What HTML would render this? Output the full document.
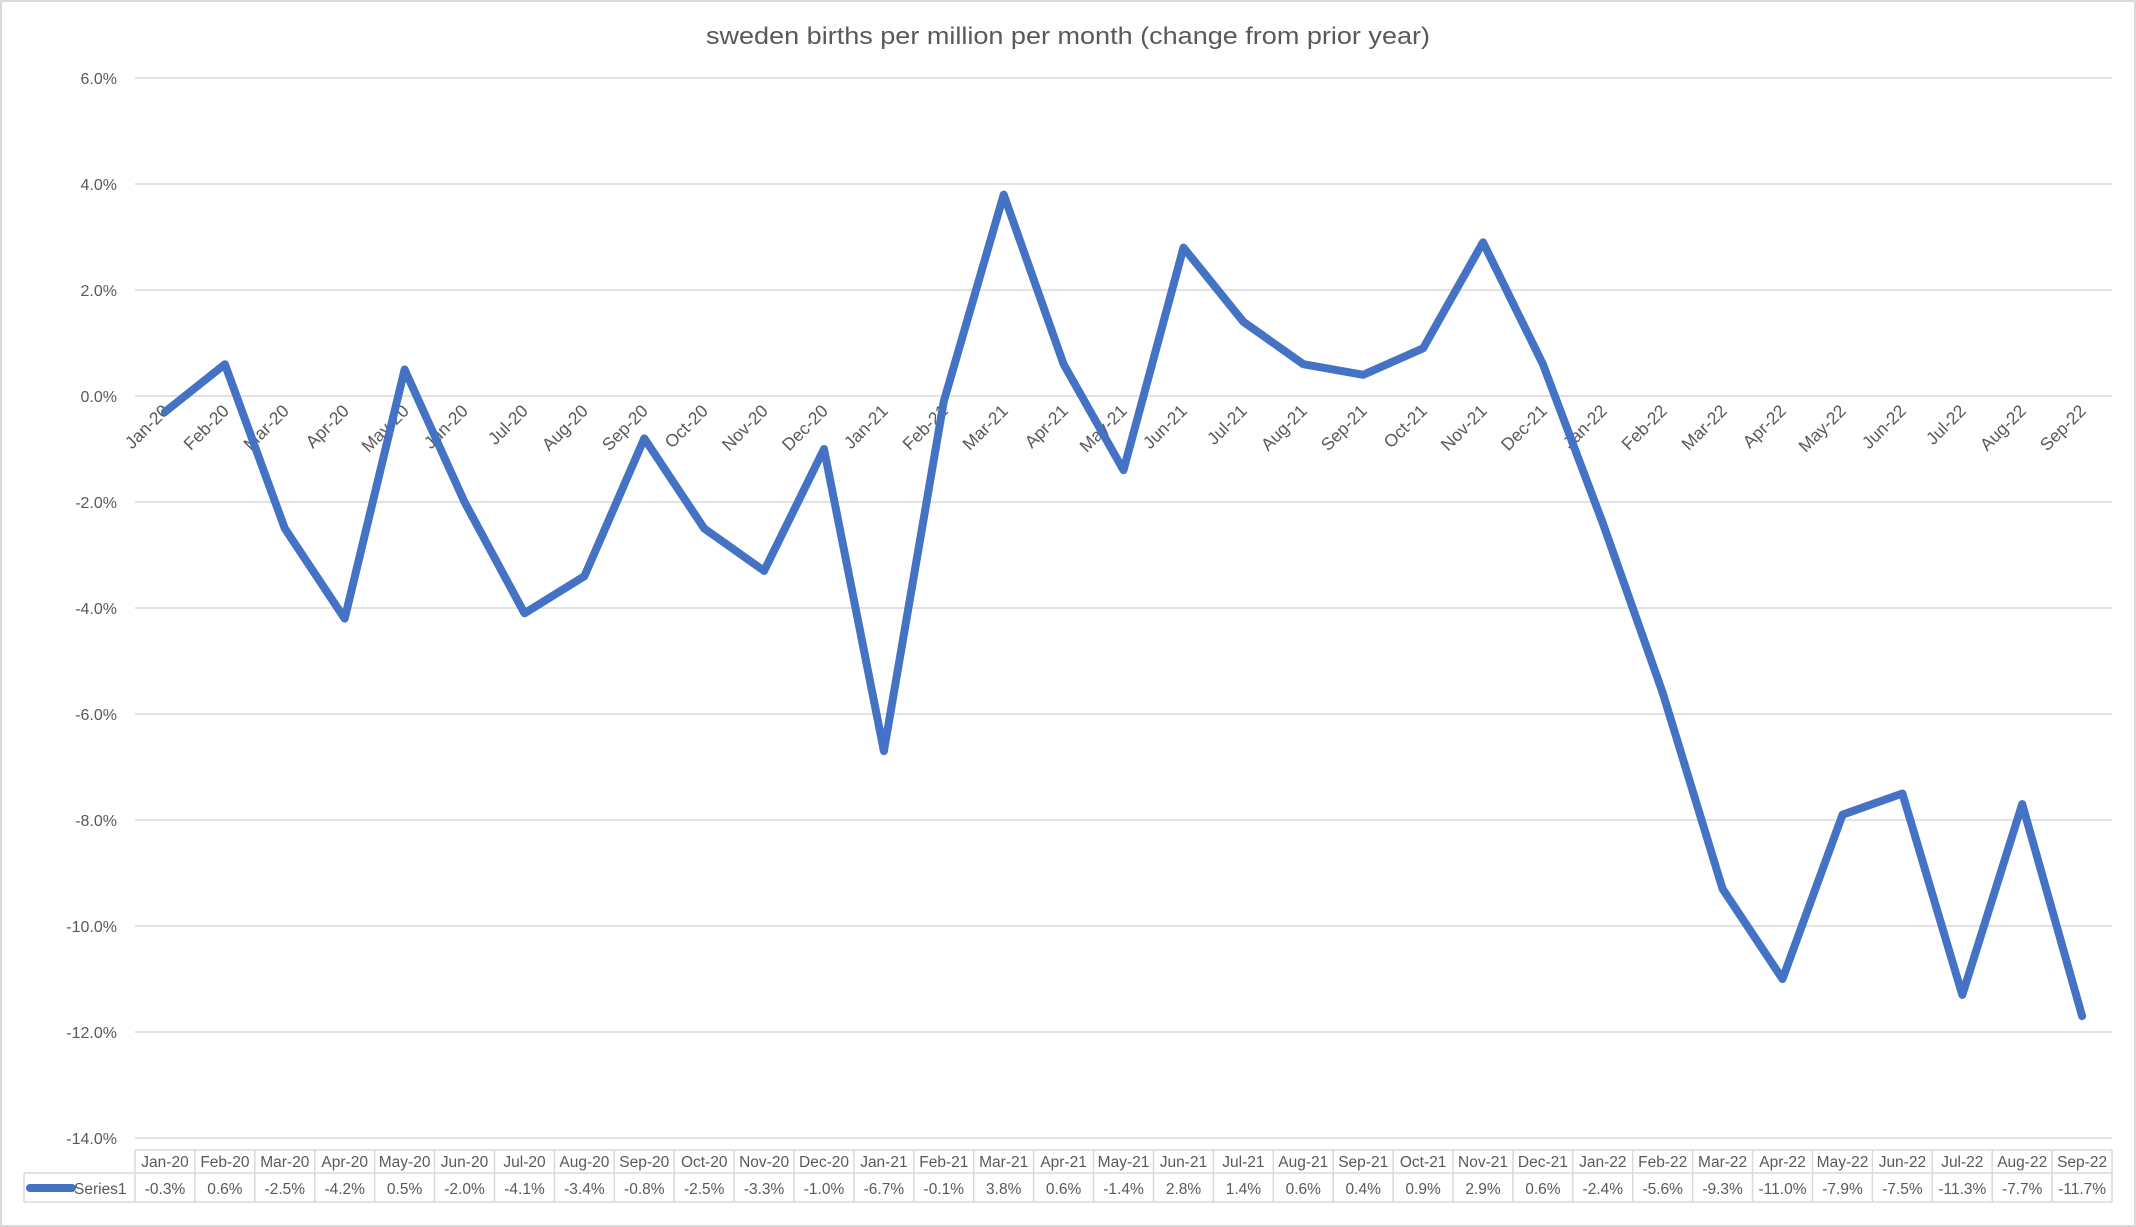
<!DOCTYPE html>
<html><head><meta charset="utf-8"><style>
html,body{margin:0;padding:0;background:#fff;}
svg{display:block;font-family:"Liberation Sans",sans-serif;}
</style></head><body>
<svg width="2136" height="1227" viewBox="0 0 2136 1227" xmlns="http://www.w3.org/2000/svg">
<rect x="1" y="1" width="2134" height="1225" fill="#fff" stroke="#d9d9d9" stroke-width="2"/>
<text x="1068" y="44" text-anchor="middle" font-size="24" fill="#595959" textLength="724" lengthAdjust="spacingAndGlyphs">sweden births per million per month (change from prior year)</text>
<g stroke="#d9d9d9" stroke-width="1.5">
<line x1="135" y1="78" x2="2112" y2="78"/>
<line x1="135" y1="184" x2="2112" y2="184"/>
<line x1="135" y1="290" x2="2112" y2="290"/>
<line x1="135" y1="396" x2="2112" y2="396"/>
<line x1="135" y1="502" x2="2112" y2="502"/>
<line x1="135" y1="608" x2="2112" y2="608"/>
<line x1="135" y1="714" x2="2112" y2="714"/>
<line x1="135" y1="820" x2="2112" y2="820"/>
<line x1="135" y1="926" x2="2112" y2="926"/>
<line x1="135" y1="1032" x2="2112" y2="1032"/>
<line x1="135" y1="1138" x2="2112" y2="1138"/>
</g>
<g font-size="16" fill="#595959" text-anchor="end">
<text x="117" y="84">6.0%</text>
<text x="117" y="190">4.0%</text>
<text x="117" y="296">2.0%</text>
<text x="117" y="402">0.0%</text>
<text x="117" y="508">-2.0%</text>
<text x="117" y="614">-4.0%</text>
<text x="117" y="720">-6.0%</text>
<text x="117" y="826">-8.0%</text>
<text x="117" y="932">-10.0%</text>
<text x="117" y="1038">-12.0%</text>
<text x="117" y="1144">-14.0%</text>
</g>
<g font-size="17.5" fill="#595959" text-anchor="end">
<text transform="translate(170,412) rotate(-45)">Jan-20</text>
<text transform="translate(230,412) rotate(-45)">Feb-20</text>
<text transform="translate(290,412) rotate(-45)">Mar-20</text>
<text transform="translate(350,412) rotate(-45)">Apr-20</text>
<text transform="translate(410,412) rotate(-45)">May-20</text>
<text transform="translate(469,412) rotate(-45)">Jun-20</text>
<text transform="translate(529,412) rotate(-45)">Jul-20</text>
<text transform="translate(589,412) rotate(-45)">Aug-20</text>
<text transform="translate(649,412) rotate(-45)">Sep-20</text>
<text transform="translate(709,412) rotate(-45)">Oct-20</text>
<text transform="translate(769,412) rotate(-45)">Nov-20</text>
<text transform="translate(829,412) rotate(-45)">Dec-20</text>
<text transform="translate(889,412) rotate(-45)">Jan-21</text>
<text transform="translate(949,412) rotate(-45)">Feb-21</text>
<text transform="translate(1009,412) rotate(-45)">Mar-21</text>
<text transform="translate(1069,412) rotate(-45)">Apr-21</text>
<text transform="translate(1128,412) rotate(-45)">May-21</text>
<text transform="translate(1188,412) rotate(-45)">Jun-21</text>
<text transform="translate(1248,412) rotate(-45)">Jul-21</text>
<text transform="translate(1308,412) rotate(-45)">Aug-21</text>
<text transform="translate(1368,412) rotate(-45)">Sep-21</text>
<text transform="translate(1428,412) rotate(-45)">Oct-21</text>
<text transform="translate(1488,412) rotate(-45)">Nov-21</text>
<text transform="translate(1548,412) rotate(-45)">Dec-21</text>
<text transform="translate(1608,412) rotate(-45)">Jan-22</text>
<text transform="translate(1668,412) rotate(-45)">Feb-22</text>
<text transform="translate(1728,412) rotate(-45)">Mar-22</text>
<text transform="translate(1787,412) rotate(-45)">Apr-22</text>
<text transform="translate(1847,412) rotate(-45)">May-22</text>
<text transform="translate(1907,412) rotate(-45)">Jun-22</text>
<text transform="translate(1967,412) rotate(-45)">Jul-22</text>
<text transform="translate(2027,412) rotate(-45)">Aug-22</text>
<text transform="translate(2087,412) rotate(-45)">Sep-22</text>
</g>
<polyline fill="none" stroke="#4472c4" stroke-width="8" stroke-linejoin="round" stroke-linecap="round" points="165,411.9 224.9,364.2 284.8,528.5 344.7,618.6 404.6,369.5 464.5,502 524.5,613.3 584.4,576.2 644.3,438.4 704.2,528.5 764.1,570.9 824,449 883.9,751.1 943.8,401.3 1003.7,194.6 1063.6,364.2 1123.5,470.2 1183.5,247.6 1243.4,321.8 1303.3,364.2 1363.2,374.8 1423.1,348.3 1483,242.3 1542.9,364.2 1602.8,523.2 1662.7,692.8 1722.6,888.9 1782.5,979 1842.5,814.7 1902.4,793.5 1962.3,994.9 2022.2,804.1 2082.1,1016.1"/>
<g stroke="#d9d9d9" stroke-width="1.5" fill="none">
<line x1="135" y1="1150" x2="2112" y2="1150"/>
<line x1="24" y1="1173" x2="2112" y2="1173"/>
<line x1="24" y1="1202" x2="2112" y2="1202"/>
<line x1="24" y1="1173" x2="24" y2="1202"/>
<line x1="135" y1="1150" x2="135" y2="1202"/><line x1="194.9" y1="1150" x2="194.9" y2="1202"/><line x1="254.8" y1="1150" x2="254.8" y2="1202"/><line x1="314.7" y1="1150" x2="314.7" y2="1202"/><line x1="374.6" y1="1150" x2="374.6" y2="1202"/><line x1="434.5" y1="1150" x2="434.5" y2="1202"/><line x1="494.5" y1="1150" x2="494.5" y2="1202"/><line x1="554.4" y1="1150" x2="554.4" y2="1202"/><line x1="614.3" y1="1150" x2="614.3" y2="1202"/><line x1="674.2" y1="1150" x2="674.2" y2="1202"/><line x1="734.1" y1="1150" x2="734.1" y2="1202"/><line x1="794" y1="1150" x2="794" y2="1202"/><line x1="853.9" y1="1150" x2="853.9" y2="1202"/><line x1="913.8" y1="1150" x2="913.8" y2="1202"/><line x1="973.7" y1="1150" x2="973.7" y2="1202"/><line x1="1033.6" y1="1150" x2="1033.6" y2="1202"/><line x1="1093.5" y1="1150" x2="1093.5" y2="1202"/><line x1="1153.5" y1="1150" x2="1153.5" y2="1202"/><line x1="1213.4" y1="1150" x2="1213.4" y2="1202"/><line x1="1273.3" y1="1150" x2="1273.3" y2="1202"/><line x1="1333.2" y1="1150" x2="1333.2" y2="1202"/><line x1="1393.1" y1="1150" x2="1393.1" y2="1202"/><line x1="1453" y1="1150" x2="1453" y2="1202"/><line x1="1512.9" y1="1150" x2="1512.9" y2="1202"/><line x1="1572.8" y1="1150" x2="1572.8" y2="1202"/><line x1="1632.7" y1="1150" x2="1632.7" y2="1202"/><line x1="1692.6" y1="1150" x2="1692.6" y2="1202"/><line x1="1752.5" y1="1150" x2="1752.5" y2="1202"/><line x1="1812.5" y1="1150" x2="1812.5" y2="1202"/><line x1="1872.4" y1="1150" x2="1872.4" y2="1202"/><line x1="1932.3" y1="1150" x2="1932.3" y2="1202"/><line x1="1992.2" y1="1150" x2="1992.2" y2="1202"/><line x1="2052.1" y1="1150" x2="2052.1" y2="1202"/><line x1="2112" y1="1150" x2="2112" y2="1202"/>
</g>
<line x1="30" y1="1188" x2="72" y2="1188" stroke="#4472c4" stroke-width="8" stroke-linecap="round"/>
<text x="74" y="1194" font-size="15.5" fill="#595959">Series1</text>
<g font-size="15.5" fill="#595959" text-anchor="middle">
<text x="165" y="1167">Jan-20</text><text x="224.9" y="1167">Feb-20</text><text x="284.8" y="1167">Mar-20</text><text x="344.7" y="1167">Apr-20</text><text x="404.6" y="1167">May-20</text><text x="464.5" y="1167">Jun-20</text><text x="524.5" y="1167">Jul-20</text><text x="584.4" y="1167">Aug-20</text><text x="644.3" y="1167">Sep-20</text><text x="704.2" y="1167">Oct-20</text><text x="764.1" y="1167">Nov-20</text><text x="824" y="1167">Dec-20</text><text x="883.9" y="1167">Jan-21</text><text x="943.8" y="1167">Feb-21</text><text x="1003.7" y="1167">Mar-21</text><text x="1063.6" y="1167">Apr-21</text><text x="1123.5" y="1167">May-21</text><text x="1183.5" y="1167">Jun-21</text><text x="1243.4" y="1167">Jul-21</text><text x="1303.3" y="1167">Aug-21</text><text x="1363.2" y="1167">Sep-21</text><text x="1423.1" y="1167">Oct-21</text><text x="1483" y="1167">Nov-21</text><text x="1542.9" y="1167">Dec-21</text><text x="1602.8" y="1167">Jan-22</text><text x="1662.7" y="1167">Feb-22</text><text x="1722.6" y="1167">Mar-22</text><text x="1782.5" y="1167">Apr-22</text><text x="1842.5" y="1167">May-22</text><text x="1902.4" y="1167">Jun-22</text><text x="1962.3" y="1167">Jul-22</text><text x="2022.2" y="1167">Aug-22</text><text x="2082.1" y="1167">Sep-22</text>
<text x="165" y="1194">-0.3%</text><text x="224.9" y="1194">0.6%</text><text x="284.8" y="1194">-2.5%</text><text x="344.7" y="1194">-4.2%</text><text x="404.6" y="1194">0.5%</text><text x="464.5" y="1194">-2.0%</text><text x="524.5" y="1194">-4.1%</text><text x="584.4" y="1194">-3.4%</text><text x="644.3" y="1194">-0.8%</text><text x="704.2" y="1194">-2.5%</text><text x="764.1" y="1194">-3.3%</text><text x="824" y="1194">-1.0%</text><text x="883.9" y="1194">-6.7%</text><text x="943.8" y="1194">-0.1%</text><text x="1003.7" y="1194">3.8%</text><text x="1063.6" y="1194">0.6%</text><text x="1123.5" y="1194">-1.4%</text><text x="1183.5" y="1194">2.8%</text><text x="1243.4" y="1194">1.4%</text><text x="1303.3" y="1194">0.6%</text><text x="1363.2" y="1194">0.4%</text><text x="1423.1" y="1194">0.9%</text><text x="1483" y="1194">2.9%</text><text x="1542.9" y="1194">0.6%</text><text x="1602.8" y="1194">-2.4%</text><text x="1662.7" y="1194">-5.6%</text><text x="1722.6" y="1194">-9.3%</text><text x="1782.5" y="1194">-11.0%</text><text x="1842.5" y="1194">-7.9%</text><text x="1902.4" y="1194">-7.5%</text><text x="1962.3" y="1194">-11.3%</text><text x="2022.2" y="1194">-7.7%</text><text x="2082.1" y="1194">-11.7%</text>
</g>
</svg>
</body></html>
